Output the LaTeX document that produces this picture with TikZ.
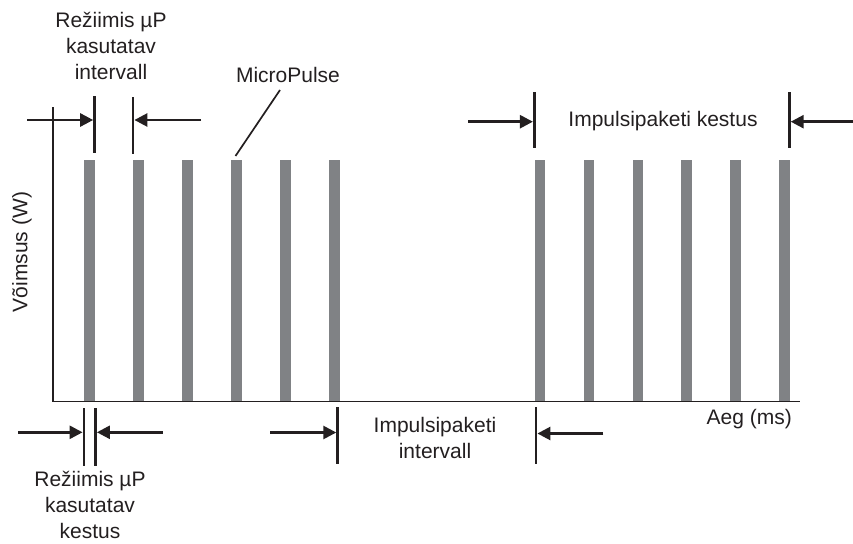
\documentclass[tikz,border=0pt]{standalone}
\usepackage{fontspec}
\setmainfont{Liberation Sans}
\usetikzlibrary{arrows.meta}
\definecolor{bargray}{RGB}{128,130,133}
\definecolor{ink}{RGB}{35,31,32}
\begin{document}
\begin{tikzpicture}[x=1pt,y=-1pt,
  lbl/.style={font=\fontsize{21}{26}\selectfont, text=ink, align=center, inner sep=0pt},
  tickline/.style={draw=ink, line width=2.9pt},
  dimarrow/.style={draw=ink, line width=2.6pt, -{Triangle[length=13pt,width=13pt]}},
  axisline/.style={draw=ink, line width=1.7pt},
  leader/.style={draw=ink, line width=1.7pt},
  bar/.style={fill=bargray, draw=none}]
\useasboundingbox (0,0) rectangle (853,543);

% bars
\foreach \x [count=\i] in {89.3,138.3,187.3,236.3,285.3,334.3,540,588.9,637.8,686.7,735.6,784.5}
  \fill[bar] (\x-5.3,160) rectangle (\x+5.3,401.5);

% axes
\coordinate (ytop) at (53,107);
\coordinate (origin) at (53,401.5);
\coordinate (xend) at (800,401.5);
\draw[axisline] (ytop) -- (origin) -- (xend);

% labels
\node[lbl] (lblA) at (111,46) {Režiimis µP\\kasutatav\\intervall};
\node[lbl] (lblMP) at (288,75) {MicroPulse};
\node[lbl] (lblK) at (663,121) {Impulsipaketi kestus};
\node[lbl] (lblB) at (90,505) {Režiimis µP\\kasutatav\\kestus};
\node[lbl] (lblI) at (435,438) {Impulsipaketi\\intervall};
\node[lbl, anchor=east] (lblX) at (792,419) {Aeg (ms)};
\node[lbl, rotate=90] (lblY) at (22,252) {Võimsus (W)};

% MicroPulse leader
\coordinate (mpa) at (280,90);
\coordinate (mpb) at (235.5,156);
\draw[leader] (mpa) -- (mpb);

% top-left interval dimension
\coordinate (tA1t) at (94.6,96);  \coordinate (tA1b) at (94.6,153);
\coordinate (tA2t) at (133,97);   \coordinate (tA2b) at (133,154);
\draw[tickline] (tA1t) -- (tA1b);
\draw[tickline] (tA2t) -- (tA2b);
\coordinate (aA1s) at (27,120);   \coordinate (aA1e) at (93.2,120);
\coordinate (aA2s) at (201,120);  \coordinate (aA2e) at (134.4,120);
\draw[dimarrow] (aA1s) -- (aA1e);
\draw[dimarrow] (aA2s) -- (aA2e);

% top-right burst duration
\coordinate (tK1t) at (534.3,92); \coordinate (tK1b) at (534.3,148);
\coordinate (tK2t) at (789.3,92); \coordinate (tK2b) at (789.3,148);
\draw[tickline] (tK1t) -- (tK1b);
\draw[tickline] (tK2t) -- (tK2b);
\coordinate (aK1s) at (468,121.7); \coordinate (aK1e) at (532.9,121.7);
\coordinate (aK2s) at (853,121.7); \coordinate (aK2e) at (790.7,121.7);
\draw[dimarrow] (aK1s) -- (aK1e);
\draw[dimarrow] (aK2s) -- (aK2e);

% bottom-left duration
\coordinate (tB1t) at (84,408);   \coordinate (tB1b) at (84,466);
\coordinate (tB2t) at (95.5,408); \coordinate (tB2b) at (95.5,466);
\draw[tickline] (tB1t) -- (tB1b);
\draw[tickline] (tB2t) -- (tB2b);
\coordinate (aB1s) at (18,432.3);    \coordinate (aB1e) at (82.6,432.3);
\coordinate (aB2s) at (162.7,432.3); \coordinate (aB2e) at (96.9,432.3);
\draw[dimarrow] (aB1s) -- (aB1e);
\draw[dimarrow] (aB2s) -- (aB2e);

% bottom burst interval
\coordinate (tI1t) at (337.7,407); \coordinate (tI1b) at (337.7,464);
\coordinate (tI2t) at (536,407);   \coordinate (tI2b) at (536,464);
\draw[tickline] (tI1t) -- (tI1b);
\draw[tickline] (tI2t) -- (tI2b);
\coordinate (aI1s) at (270,432.5);   \coordinate (aI1e) at (336.3,432.5);
\coordinate (aI2s) at (603.3,433.5); \coordinate (aI2e) at (537.4,433.5);
\draw[dimarrow] (aI1s) -- (aI1e);
\draw[dimarrow] (aI2s) -- (aI2e);
\end{tikzpicture}
\end{document}
